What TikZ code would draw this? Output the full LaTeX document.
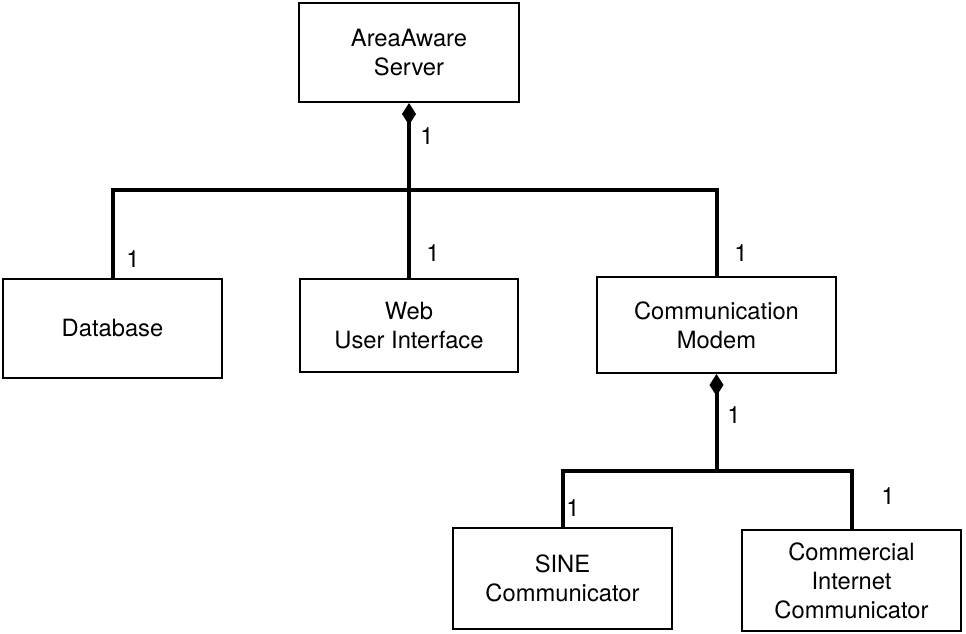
\documentclass[tikz,border=0pt]{standalone}
\usepackage{fontspec}
\setmainfont{TeX Gyre Heros}
\usetikzlibrary{arrows.meta}
\begin{document}
\begin{tikzpicture}[x=0.75pt,y=-0.75pt,
  box/.style={draw=black,line width=1.5pt,fill=white,inner sep=0pt,align=center,
    font=\fontsize{17.8}{21.75}\selectfont},
  conn/.style={draw=black,line width=3pt,line join=miter,line cap=butt},
  comp/.style={conn,{Diamond[length=16.5pt,width=10.5pt]}-},
  mult/.style={inner sep=0pt,font=\fontsize{17.8}{21.75}\selectfont}]
\useasboundingbox[fill=white] (0,0) rectangle (966,634);
% boxes
\node[box,minimum width=165pt,minimum height=74.25pt] (server) at (409,52.5) {AreaAware\\Server};
\node[box,minimum width=164.25pt,minimum height=74.25pt] (db) at (112.5,328.5) {Database};
\node[box,minimum width=163.5pt,minimum height=69.75pt] (web) at (409,325.5) {Web\\User Interface};
\node[box,minimum width=179.25pt,minimum height=72pt] (comm) at (716.5,325) {Communication\\Modem};
\node[box,minimum width=164.25pt,minimum height=75.75pt] (sine) at (562.5,578.5) {SINE\\Communicator};
\node[box,minimum width=164.25pt,minimum height=75.75pt] (cic) at (851.5,580.5) {Commercial\\Internet\\Communicator};
% junctions
\coordinate (bar1) at (409,190);
\coordinate (bar2) at (716.5,471);
% connectors
\draw[comp] (server.south) -- (bar1);
\draw[conn] (db.north) |- (bar1) -| (comm.north);
\draw[conn] (web.north) -- (bar1);
\draw[comp] (comm.south) -- (bar2);
\draw[conn] (sine.north) |- (bar2) -| (cic.north);
% multiplicities
\node[mult] (m1) at (427,136) {1};
\node[mult] (m2) at (133,259) {1};
\node[mult] (m3) at (433,253) {1};
\node[mult] (m4) at (741,253) {1};
\node[mult] (m5) at (734,415) {1};
\node[mult] (m6) at (573,508) {1};
\node[mult] (m7) at (888,496) {1};
\end{tikzpicture}
\end{document}
